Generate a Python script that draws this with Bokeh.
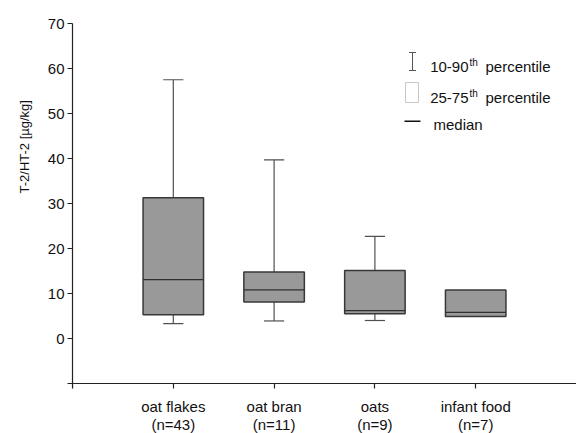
import numpy as np
from bokeh.plotting import figure
from bokeh.models import Range1d, FixedTicker, Label, BoxAnnotation, Title
from bokeh.embed import file_html
from bokeh.resources import INLINE

# ---- data ----
categories = ["oat flakes", "oat bran", "oats", "infant food"]
counts = [43, 11, 9, 7]
p10 = [3.3, 3.9, 4.0, np.nan]
q1 = [5.3, 8.1, 5.5, 4.9]
median = [13.1, 10.8, 6.2, 5.8]
q3 = [31.3, 14.8, 15.1, 10.8]
p90 = [57.5, 39.7, 22.7, np.nan]
y_ticks = [-10, 0, 10, 20, 30, 40, 50, 60, 70]
y_label = "T-2/HT-2 [µg/kg]"

FONT = "Liberation Sans"
BOX_W = 0.6
CAP_W = 0.2
FILL = "#999999"
EDGE = "#383838"
WHISK = "#505050"

W, H = 576, 433
LEFT, TOP = 72, 23
AXIS_Y = -10          # value where the category axis sits
Y_MAX = 70
PX_PER_UNIT = 4.5
Y_MIN = Y_MAX - (H - TOP) / PX_PER_UNIT   # frame runs to the page bottom

pos = np.arange(1, len(categories) + 1)

p = figure(width=W, height=H, x_range=Range1d(0, 5), y_range=Range1d(Y_MIN, Y_MAX),
           output_backend="svg", toolbar_location=None,
           min_border_left=LEFT, min_border_right=0, min_border_top=TOP, min_border_bottom=0)
p.outline_line_color = None
p.xgrid.grid_line_color = None
p.ygrid.grid_line_color = None
p.background_fill_color = "white"
p.border_fill_color = "white"

# whiskers
p.segment(x0=pos, x1=pos, y0=q3, y1=p90, line_color=WHISK, line_width=1.2)
p.segment(x0=pos, x1=pos, y0=p10, y1=q1, line_color=WHISK, line_width=1.2)
p.segment(x0=pos - CAP_W / 2, x1=pos + CAP_W / 2, y0=p90, y1=p90, line_color=WHISK, line_width=1.2)
p.segment(x0=pos - CAP_W / 2, x1=pos + CAP_W / 2, y0=p10, y1=p10, line_color=WHISK, line_width=1.2)
# boxes
p.vbar(x=pos, width=BOX_W, bottom=q1, top=q3, fill_color=FILL, line_color=EDGE, line_width=1.5)
# medians
p.segment(x0=pos - BOX_W / 2, x1=pos + BOX_W / 2, y0=median, y1=median, line_color="#303030", line_width=1.2)

# axes
x_ticks = [0] + [int(v) for v in pos]
p.xaxis.ticker = FixedTicker(ticks=x_ticks)
p.xaxis.major_label_overrides = {0: "", **{int(v): f"{c}\n(n={n})" for v, c, n in zip(pos, categories, counts)}}
p.xaxis.fixed_location = AXIS_Y
p.yaxis.ticker = FixedTicker(ticks=y_ticks)
p.yaxis.major_label_overrides = {AXIS_Y: ""}
p.yaxis.bounds = (AXIS_Y - 5 / PX_PER_UNIT, Y_MAX)
for ax in (p.xaxis[0], p.yaxis[0]):
    ax.axis_line_color = "#222222"
    ax.axis_line_width = 1.2
    ax.major_tick_line_color = "#222222"
    ax.major_tick_line_width = 1.2
    ax.major_tick_in = 0
    ax.major_tick_out = 5
    ax.minor_tick_line_color = None
    ax.major_label_text_font = FONT
    ax.major_label_text_font_size = "15px"
    ax.major_label_text_color = "#111111"
p.yaxis.major_label_standoff = 3
p.xaxis.major_label_standoff = 9
p.xaxis.major_label_text_line_height = 1.1

# y axis title, placed above the axis centre as in the reference
p.add_layout(Title(text=y_label, align="left", offset=240, standoff=25,
                   text_font=FONT, text_font_size="13px", text_font_style="normal",
                   text_color="#111111"), "left")

# ---- legend (pixel positions on the page converted to frame screen units) ----
def sx(px):
    return px - LEFT

def sy(py):
    return H - py

def box(l, r, t, b, fill, line=None):
    p.add_layout(BoxAnnotation(left=sx(l), right=sx(r), bottom=sy(b), top=sy(t),
                               left_units="screen", right_units="screen",
                               bottom_units="screen", top_units="screen",
                               fill_color=fill, fill_alpha=1.0 if fill else 0,
                               line_color=line, line_width=1, line_alpha=1.0,
                               level="overlay"))

def txt(px, py, s, size, align="left"):
    p.add_layout(Label(x=sx(px), y=sy(py), x_units="screen", y_units="screen", text=s,
                       text_align=align, text_baseline="alphabetic",
                       text_font=FONT, text_font_size=size, text_color="#111111"))

# whisker icon
box(411.5, 412.5, 52, 70, "#555555")
box(408.5, 415.5, 51.5, 52.5, "#555555")
box(408.5, 415.5, 69.5, 70.5, "#555555")
# box icon
box(405, 418, 82, 102, "white", "#c8c8c8")
# median icon
box(404, 420, 120, 121.5, "#111111")

for base, lo_hi in ((66, "10-90"), (97, "25-75")):
    txt(468, base, lo_hi, "15px", align="right")
    txt(469, base - 4, "th", "10px")
    txt(485, base, "percentile", "15px")
txt(433, 124, "median", "15px")

open("out.html", "w").write(file_html(p, INLINE))
